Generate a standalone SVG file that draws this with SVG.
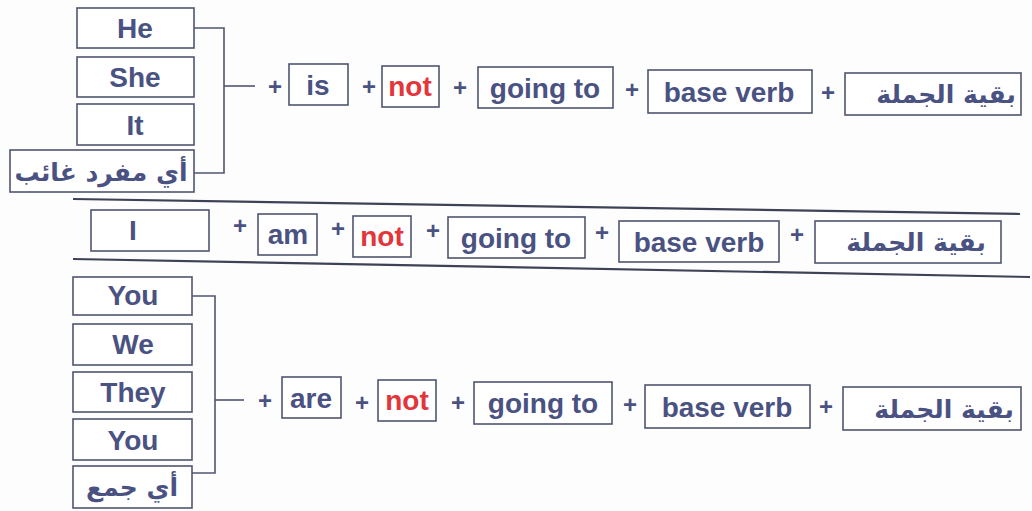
<svg xmlns="http://www.w3.org/2000/svg" width="1032" height="511" viewBox="0 0 1032 511">
<style>
.b{fill:#fff;stroke:#4f5570;stroke-width:1.6}
.t{font-family:"Liberation Sans",Arial,sans-serif;font-weight:bold;font-size:28px;fill:#4a5282;text-anchor:middle}
.r{fill:#e2363c}
.a{font-family:"DejaVu Sans","Noto Sans",sans-serif;font-weight:bold;font-size:25px;fill:#4a5282;text-anchor:middle;direction:rtl}
.p{font-family:"Liberation Sans",Arial,sans-serif;font-weight:bold;font-size:24px;fill:#4a5282;text-anchor:middle}
.c{fill:none;stroke:#4f5570;stroke-width:1.6}
.s{stroke:#3e4256;stroke-width:2.2}
</style>
<rect width="1032" height="511" fill="#fdfdfd"/>
<g id="connectors">
<polyline class="c" points="194,28 224,28 224,173 194,173"/>
<line class="c" x1="224" y1="86" x2="255" y2="86"/>
<polyline class="c" points="192,296 215,296 215,473 192,473"/>
<line class="c" x1="215" y1="400" x2="244" y2="400"/>
<line class="s" x1="73" y1="199" x2="1020" y2="214"/>
<line class="s" x1="73" y1="259" x2="1030" y2="277"/>
</g>
<g id="row1">
<g id="he"><rect class="b" x="77" y="8" width="117" height="40"/><text class="t" x="135" y="38">He</text></g>
<g id="she"><rect class="b" x="77" y="57" width="117" height="40"/><text class="t" x="135" y="87">She</text></g>
<g id="it"><rect class="b" x="77" y="104" width="117" height="41"/><text class="t" x="135" y="135">It</text></g>
<g id="single"><rect class="b" x="10" y="150" width="184" height="42"/><text class="a" x="101" y="181">أي مفرد غائب</text></g>
<text class="p" x="275" y="95">+</text>
<g id="is"><rect class="b" x="289" y="64" width="59" height="41"/><text class="t" x="318" y="95">is</text></g>
<text class="p" x="369" y="95">+</text>
<g id="not1"><rect class="b" x="382" y="66" width="57" height="41"/><text class="t r" x="410" y="96">not</text></g>
<text class="p" x="460" y="96">+</text>
<g id="goingto1"><rect class="b" x="478" y="67" width="135" height="41"/><text class="t" x="545" y="98">going to</text></g>
<text class="p" x="632" y="98">+</text>
<g id="baseverb1"><rect class="b" x="648" y="70" width="164" height="43"/><text class="t" x="729" y="102">base verb</text></g>
<text class="p" x="828" y="101">+</text>
<g id="rest1"><rect class="b" x="845" y="73" width="176" height="42"/><text class="a" x="946" y="103">بقية الجملة</text></g>
</g>
<g id="row2">
<g id="i"><rect class="b" x="91" y="210" width="118" height="41"/><text class="t" x="133" y="240">I</text></g>
<text class="p" x="240" y="234">+</text>
<g id="am"><rect class="b" x="258" y="214" width="59" height="41"/><text class="t" x="288" y="244">am</text></g>
<text class="p" x="338" y="237">+</text>
<g id="not2"><rect class="b" x="353" y="216" width="58" height="41"/><text class="t r" x="382" y="246">not</text></g>
<text class="p" x="433" y="239">+</text>
<g id="goingto2"><rect class="b" x="448" y="217" width="137" height="41"/><text class="t" x="516" y="248">going to</text></g>
<text class="p" x="602" y="241">+</text>
<g id="baseverb2"><rect class="b" x="619" y="221" width="160" height="41"/><text class="t" x="699" y="252">base verb</text></g>
<text class="p" x="797" y="243">+</text>
<g id="rest2"><rect class="b" x="815" y="221" width="186" height="42"/><text class="a" x="916" y="251">بقية الجملة</text></g>
</g>
<g id="row3">
<g id="you1"><rect class="b" x="73" y="277" width="119" height="38"/><text class="t" x="133" y="305">You</text></g>
<g id="we"><rect class="b" x="73" y="324" width="119" height="41"/><text class="t" x="133" y="354">We</text></g>
<g id="they"><rect class="b" x="73" y="372" width="119" height="40"/><text class="t" x="133" y="402">They</text></g>
<g id="you2"><rect class="b" x="73" y="419" width="119" height="41"/><text class="t" x="133" y="450">You</text></g>
<g id="plural"><rect class="b" x="73" y="466" width="119" height="42"/><text class="a" x="132" y="496">أي جمع</text></g>
<text class="p" x="265" y="409">+</text>
<g id="are"><rect class="b" x="282" y="377" width="59" height="41"/><text class="t" x="311" y="408">are</text></g>
<text class="p" x="362" y="411">+</text>
<g id="not3"><rect class="b" x="378" y="380" width="58" height="41"/><text class="t r" x="407" y="410">not</text></g>
<text class="p" x="458" y="411">+</text>
<g id="goingto3"><rect class="b" x="474" y="382" width="138" height="42"/><text class="t" x="543" y="413">going to</text></g>
<text class="p" x="630" y="413">+</text>
<g id="baseverb3"><rect class="b" x="645" y="385" width="165" height="43"/><text class="t" x="727" y="417">base verb</text></g>
<text class="p" x="826" y="415">+</text>
<g id="rest3"><rect class="b" x="843" y="387" width="178" height="43"/><text class="a" x="944" y="418">بقية الجملة</text></g>
</g>
</svg>
